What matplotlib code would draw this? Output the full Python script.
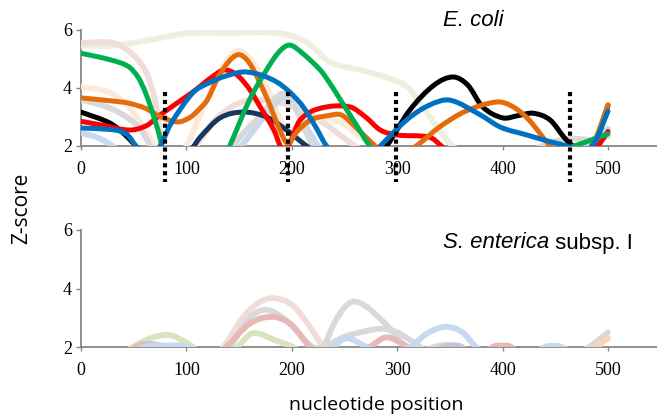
import numpy as np
import matplotlib
matplotlib.use("Agg")
import matplotlib.pyplot as plt
from matplotlib.path import Path
from matplotlib.patches import PathPatch


# ---- E. coli panel (values below 2 sit under the axis and are hidden) ----
EC_PALEGREEN_X = [0, 30, 60, 100, 140, 190, 215, 236, 265, 290, 310, 325, 350, 375]
EC_PALEGREEN_Y = [5.45, 5.46, 5.62, 5.88, 5.9, 5.88, 5.55, 4.9, 4.62, 4.36, 4.02, 3.3, 2.1, 1.4]

EC_PINK_X = [0, 30, 46, 61, 70, 78, 92, 113, 130, 155, 180, 205, 230, 260, 285, 330, 420, 480, 500]
EC_PINK_Y = [5.55, 5.56, 5.25, 4.6, 3.6, 2.0, 1.2, 2.2, 3.0, 3.55, 3.55, 3.3, 2.8, 2.0, 1.5, 1.3, 1.3, 1.8, 2.5]

EC_PEACH_X = [0, 28, 45, 61, 70, 85, 100, 112, 122, 135, 148, 162, 178, 192, 205, 225, 245, 262, 278, 295]
EC_PEACH_Y = [4.05, 3.83, 3.35, 2.55, 2.0, 1.3, 2.0, 3.0, 3.8, 4.75, 5.28, 4.95, 3.9, 2.7, 2.6, 2.95, 2.85, 2.4, 2.0, 1.6]

EC_GRAY_X = [0, 28, 47, 58, 66, 80, 110, 128, 144, 158, 172, 183, 193, 203, 212, 220, 232, 300, 400, 440, 465, 490, 500]
EC_GRAY_Y = [3.6, 3.3, 2.9, 2.5, 2.0, 1.3, 1.0, 1.3, 2.0, 2.6, 3.1, 3.6, 3.8, 3.35, 2.6, 2.0, 1.5, 1.0, 1.2, 2.05, 2.25, 2.2, 2.35]

EC_LTBLUE_X = [0, 15, 30, 45, 100, 135, 152, 167, 182, 193, 205, 218, 232, 300, 400, 460, 485, 500]
EC_LTBLUE_Y = [2.45, 2.3, 2.0, 1.5, 1.2, 1.5, 2.0, 2.7, 3.35, 3.68, 3.2, 2.4, 1.7, 1.2, 1.2, 1.6, 2.2, 2.6]

EC_NAVY_X = [90, 105, 113, 132, 154, 176, 195, 214, 230]
EC_NAVY_Y = [1.4, 1.9, 2.3, 2.97, 3.17, 3.0, 2.55, 2.0, 1.6]

EC_BLACK_X = [0, 27, 40, 52, 65, 80, 130, 200, 270, 290, 312, 335, 353, 367, 381, 400, 415, 429, 445, 459, 467, 478, 489, 500]
EC_BLACK_Y = [3.17, 2.8, 2.45, 2.0, 1.5, 1.2, 1.0, 1.0, 1.2, 2.0, 3.24, 4.1, 4.38, 4.1, 3.35, 2.97, 3.05, 3.13, 2.9, 2.27, 2.0, 1.8, 2.25, 3.4]

EC_RED_X = [0, 20, 46, 62, 75, 106, 125, 136, 148, 160, 170, 183, 189, 193, 198, 208, 227, 255, 270, 284, 300, 331, 342, 355, 400, 470, 488, 500]
EC_RED_Y = [2.85, 2.72, 2.55, 2.7, 3.07, 3.86, 4.4, 4.62, 4.45, 3.95, 3.35, 2.55, 2.0, 1.8, 2.1, 2.9, 3.3, 3.35, 3.0, 2.55, 2.38, 2.3, 2.0, 1.6, 1.3, 1.5, 1.9, 2.5]

EC_ORANGE_X = [0, 30, 45, 61, 76, 92, 104, 113, 120, 132, 148, 160, 177, 188, 196, 205, 218, 235, 247, 262, 279, 295, 318, 340, 365, 395, 410, 425, 445, 462, 475, 487, 500]
EC_ORANGE_Y = [3.66, 3.55, 3.48, 3.3, 3.0, 2.83, 3.0, 3.3, 3.6, 4.5, 5.14, 4.85, 3.6, 2.6, 2.1, 2.5, 2.9, 3.05, 3.07, 2.6, 2.0, 1.5, 2.0, 2.65, 3.2, 3.52, 3.35, 2.9, 2.0, 1.4, 1.6, 2.15, 3.42]

EC_GREEN_X = [0, 28, 45, 54, 61, 67, 73, 77, 90, 110, 130, 141, 160, 176, 188, 198, 210, 227, 236, 246, 260, 274, 290, 360, 440, 462, 480, 500]
EC_GREEN_Y = [5.2, 4.97, 4.74, 4.38, 3.86, 3.24, 2.55, 2.0, 1.0, 0.6, 1.2, 2.0, 3.6, 4.62, 5.25, 5.48, 5.2, 4.62, 4.17, 3.6, 2.8, 2.0, 1.3, 1.0, 1.3, 1.9, 2.15, 2.42]

EC_BLUE_X = [0, 28, 38, 45, 52, 62, 75, 85, 106, 120, 138, 158, 186, 208, 222, 233, 250, 268, 284, 309, 330, 350, 379, 398, 423, 445, 461, 475, 487, 500]
EC_BLUE_Y = [2.62, 2.57, 2.5, 2.35, 2.0, 1.6, 2.0, 2.75, 3.83, 4.15, 4.42, 4.55, 4.2, 3.48, 2.7, 2.0, 1.4, 1.4, 2.0, 2.9, 3.4, 3.58, 3.07, 2.65, 2.38, 2.15, 2.0, 1.8, 2.1, 3.2]

DOTTED_X = [80, 196, 299, 464]

# ---- S. enterica subsp. I panel ----
SE_LTGREEN_X = [30, 49, 66, 84, 100, 106, 115, 135, 148, 163, 185, 201, 215]
SE_LTGREEN_Y = [1.6, 2.0, 2.3, 2.41, 2.15, 2.0, 1.7, 1.7, 2.0, 2.47, 2.22, 2.0, 1.7]

SE_PINK_X = [115, 135, 154, 168, 182, 200, 215, 230, 245]
SE_PINK_Y = [1.2, 2.0, 3.03, 3.5, 3.67, 3.45, 2.8, 2.0, 1.4]

SE_GRAY_A_X = [120, 141, 160, 176, 195, 220, 232, 250, 265, 284, 300, 322, 340, 400, 460, 482, 500]
SE_GRAY_A_Y = [1.2, 2.0, 3.0, 3.27, 2.9, 2.0, 2.05, 2.35, 2.5, 2.62, 2.5, 2.0, 1.6, 1.4, 1.6, 2.0, 2.5]

SE_GRAY_B_X = [200, 215, 230, 240, 250, 258, 270, 290, 309, 325, 340, 355, 370]
SE_GRAY_B_Y = [1.2, 1.5, 2.0, 2.8, 3.35, 3.55, 3.4, 2.75, 2.0, 1.9, 2.05, 2.05, 1.8]

SE_ROSE_X = [40, 52, 65, 78, 95, 120, 138, 160, 182, 200, 217, 235, 258, 274, 290, 310, 330, 370, 392, 400, 408, 420]
SE_ROSE_Y = [1.6, 2.0, 2.1, 2.0, 1.5, 1.4, 2.0, 2.8, 3.03, 2.75, 2.0, 1.5, 1.6, 2.0, 2.33, 2.0, 1.6, 1.6, 2.02, 2.05, 2.0, 1.6]

SE_LTBLUE_X = [45, 60, 80, 100, 115, 170, 220, 239, 252, 271, 290, 312, 330, 347, 362, 375, 395, 420, 440, 448, 456, 470]
SE_LTBLUE_Y = [1.6, 2.0, 2.05, 2.0, 1.6, 1.4, 1.6, 2.0, 2.3, 2.0, 1.7, 2.0, 2.5, 2.69, 2.5, 2.0, 1.6, 1.6, 2.0, 2.04, 2.0, 1.7]

SE_PURPLE_X = [330, 345, 352, 360, 375]
SE_PURPLE_Y = [1.7, 2.02, 2.05, 2.02, 1.7]

SE_PEACH_X = [470, 485, 500]
SE_PEACH_Y = [1.6, 1.9, 2.3]

X_TICKS = [0, 100, 200, 300, 400, 500]
Y_TICKS = [2, 4, 6]

AXIS_GRAY = "#868686"


def smooth_path(xs, ys):
    """Excel-style smoothed line: cubic Bezier segments through the points."""
    x = np.asarray(xs, float)
    y = np.asarray(ys, float)
    n = len(x)
    m = np.empty(n)
    m[0] = (y[1] - y[0]) / (x[1] - x[0])
    m[-1] = (y[-1] - y[-2]) / (x[-1] - x[-2])
    m[1:-1] = (y[2:] - y[:-2]) / (x[2:] - x[:-2])
    verts = [(x[0], y[0])]
    codes = [Path.MOVETO]
    for i in range(n - 1):
        h = x[i + 1] - x[i]
        verts += [(x[i] + h / 3, y[i] + m[i] * h / 3),
                  (x[i + 1] - h / 3, y[i + 1] - m[i + 1] * h / 3),
                  (x[i + 1], y[i + 1])]
        codes += [Path.CURVE4] * 3
    return Path(verts, codes)


def draw_series(ax, xs, ys, color, lw=3.6, z=2):
    patch = PathPatch(smooth_path(xs, ys), fill=False, edgecolor=color, lw=lw,
                      capstyle="round", joinstyle="round", zorder=z)
    ax.add_patch(patch)


def style_axes(ax):
    ax.set_xlim(0, 546.5)
    ax.set_ylim(2, 6)
    ax.set_xticks(X_TICKS)
    ax.set_yticks(Y_TICKS)
    for side in ("top", "right"):
        ax.spines[side].set_visible(False)
    for side in ("left", "bottom"):
        ax.spines[side].set_color(AXIS_GRAY)
        ax.spines[side].set_linewidth(1.3)
        ax.spines[side].set_zorder(1)
    ax.tick_params(axis="x", direction="out", length=3, width=1, color=AXIS_GRAY,
                   pad=8, labelsize=13)
    ax.tick_params(axis="y", direction="out", length=3.5, width=1, color=AXIS_GRAY,
                   pad=3, labelsize=13)
    for lab in ax.get_xticklabels() + ax.get_yticklabels():
        lab.set_fontfamily("Liberation Serif")
    ax.patch.set_alpha(0)


fig = plt.figure(figsize=(6.57, 4.18), dpi=100)
ax_top = fig.add_axes([81 / 657, 272 / 418, 576 / 657, 116 / 418])
ax_bot = fig.add_axes([81 / 657, 71 / 418, 576 / 657, 117 / 418])

# top panel, pale series first so the strong colours sit on top
pale = 4.2
draw_series(ax_top, EC_PALEGREEN_X, EC_PALEGREEN_Y, "#ebf1de", pale)
draw_series(ax_top, EC_PINK_X, EC_PINK_Y, "#f2dcdb", pale)
draw_series(ax_top, EC_PEACH_X, EC_PEACH_Y, "#fde9d9", pale)
draw_series(ax_top, EC_LTBLUE_X, EC_LTBLUE_Y, "#c6d9f1", pale)
draw_series(ax_top, EC_GRAY_X, EC_GRAY_Y, "#d9d9d9", pale)
draw_series(ax_top, EC_NAVY_X, EC_NAVY_Y, "#17375e", z=3)
draw_series(ax_top, EC_BLACK_X, EC_BLACK_Y, "#000000", z=3)
draw_series(ax_top, EC_RED_X, EC_RED_Y, "#ff0000", z=3)
draw_series(ax_top, EC_ORANGE_X, EC_ORANGE_Y, "#e46c0a", z=3)
draw_series(ax_top, EC_GREEN_X, EC_GREEN_Y, "#00b050", z=3)
draw_series(ax_top, EC_BLUE_X, EC_BLUE_Y, "#0070c0", z=3)

# dotted markers run past the axis line on purpose
for xv in DOTTED_X:
    ax_top.plot([xv, xv], [3.85, 0.75], color="black", lw=3.0,
                linestyle=(0, (1.0, 0.9)), clip_on=False, zorder=5)

# bottom panel
draw_series(ax_bot, SE_LTGREEN_X, SE_LTGREEN_Y, "#d7e4bd", pale)
draw_series(ax_bot, SE_PINK_X, SE_PINK_Y, "#f2dcdb", pale)
draw_series(ax_bot, SE_GRAY_A_X, SE_GRAY_A_Y, "#d9d9d9", pale)
draw_series(ax_bot, SE_GRAY_B_X, SE_GRAY_B_Y, "#d9d9d9", pale)
draw_series(ax_bot, SE_ROSE_X, SE_ROSE_Y, "#e6b9b8", pale)
draw_series(ax_bot, SE_LTBLUE_X, SE_LTBLUE_Y, "#c6d9f1", pale)
draw_series(ax_bot, SE_PURPLE_X, SE_PURPLE_Y, "#ccc1da", pale)
draw_series(ax_bot, SE_PEACH_X, SE_PEACH_Y, "#fcd5b5", pale)

style_axes(ax_top)
style_axes(ax_bot)

# panel titles
fig.text(443 / 657, 1 - 20 / 418, "E. coli", ha="left", va="center",
         fontsize=16, style="italic", family="Liberation Sans")
t1 = fig.text(443 / 657, 1 - 243 / 418, "S. enterica", ha="left", va="center",
              fontsize=16, style="italic", family="Liberation Sans")
ax_bot.annotate(" subsp. I", xy=(1, 0), xycoords=t1, ha="left", va="bottom",
                fontsize=16, family="Liberation Sans")

# axis titles
fig.text(22 / 657, 1 - 208 / 418, "Z-score", rotation=90, ha="center", va="center",
         fontsize=15, family="Open Sans")
fig.text(376 / 657, 1 - 405 / 418, "nucleotide position", ha="center", va="center",
         fontsize=14, family="Open Sans")

fig.savefig("out.png", dpi=100)
